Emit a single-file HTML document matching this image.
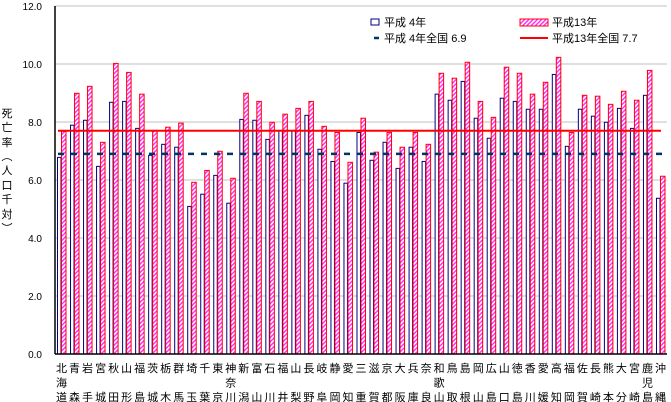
<!DOCTYPE html>
<html><head><meta charset="utf-8"><style>
body{margin:0;background:#fff;}
svg{display:block;font-family:"Liberation Sans","Noto Sans CJK JP",sans-serif;}
</style></head><body>
<svg id="chart" width="671" height="402">
<defs>
<pattern id="hatch" width="3" height="3" patternUnits="userSpaceOnUse" patternTransform="rotate(45)">
<rect width="3" height="3" fill="#fff"/><rect width="1.5" height="3" fill="#ff33ff"/>
</pattern>
</defs>
<g id="grid"></g><g id="bars"></g><g id="avg"></g><g id="axes"></g><g id="labels"></g>
<g font-size="11" text-anchor="middle">
<text x="7" y="117">死</text><text x="7" y="131">亡</text><text x="7" y="146">率</text>
<text x="7" y="160">︵</text><text x="7" y="174">人</text><text x="7" y="189">口</text>
<text x="7" y="203">千</text><text x="7" y="218">対</text><text x="7" y="232">︶</text>
</g>
<g font-size="11">
<rect x="371" y="19" width="8" height="6" fill="#fff" stroke="#000080"/>
<text x="384" y="26">平成 4年</text>
<rect x="520" y="19" width="28" height="7" fill="url(#hatch)" stroke="#f00"/>
<text x="552" y="26">平成13年</text>
<line x1="374" y1="38" x2="379" y2="38" stroke="#003366" stroke-width="2.5"/>
<text x="384" y="42">平成 4年全国 6.9</text>
<line x1="520" y1="38" x2="548" y2="38" stroke="#f00" stroke-width="2"/>
<text x="552" y="42">平成13年全国 7.7</text>
</g>
</svg>
<script>
const categories=["北海道","青森","岩手","宮城","秋田","山形","福島","茨城","栃木","群馬","埼玉","千葉","東京","神奈川","新潟","富山","石川","福井","山梨","長野","岐阜","静岡","愛知","三重","滋賀","京都","大阪","兵庫","奈良","和歌山","鳥取","島根","岡山","広島","山口","徳島","香川","愛媛","高知","福岡","佐賀","長崎","熊本","大分","宮崎","鹿児島","沖縄"];
const h4=[6.78,7.89,8.06,6.47,8.68,8.71,7.78,6.85,7.23,7.13,5.09,5.51,6.16,5.20,8.09,8.06,7.40,7.71,7.71,8.23,7.06,6.64,5.89,7.64,6.68,7.30,6.40,7.13,6.64,8.96,8.75,9.40,8.13,7.44,8.82,8.71,8.44,8.44,9.64,7.16,8.44,8.20,7.99,8.47,7.78,8.92,5.37];
const h13=[7.68,8.99,9.23,7.30,10.02,9.71,8.96,7.71,7.82,7.96,5.92,6.33,6.99,6.06,8.99,8.71,7.99,8.27,8.47,8.71,7.85,7.64,6.61,8.13,6.96,7.64,7.13,7.64,7.23,9.68,9.51,10.06,8.71,8.16,9.89,9.68,8.96,9.37,10.23,7.64,8.92,8.89,8.61,9.06,8.75,9.78,6.13];
const avgH4=6.9, avgH13=7.7;
const yTicks=[0,2,4,6,8,10,12];
const NS="http://www.w3.org/2000/svg";
const X0=55,X1=667,Y0=354,PPU=29;
const gw=(X1-X0)/categories.length;
const y=v=>Y0-v*PPU;
const gx=i=>X0+i*gw;
function mk(tag,attrs,parent){const e=document.createElementNS(NS,tag);for(const k in attrs)e.setAttribute(k,attrs[k]);parent.appendChild(e);return e;}
const grid=document.getElementById('grid'),bars=document.getElementById('bars'),avg=document.getElementById('avg'),axes=document.getElementById('axes'),labels=document.getElementById('labels');
yTicks.forEach(t=>{
  if(t>0){const l=mk('line',{x1:X0,x2:X1,y1:y(t),y2:y(t),stroke:'#c0c0c0','stroke-width':1},grid);
  
  }
  const tx=mk('text',{x:42,y:y(t)+4,'font-size':10,'text-anchor':'end'},axes);
  tx.textContent=t.toFixed(1);
  
  
});
categories.forEach((c,i)=>{
  const b1=mk('rect',{x:gx(i)+2.5,y:y(h4[i]),width:3.5,height:h4[i]*PPU,fill:'#fff',stroke:'#000080','stroke-width':1},bars);
  
  
  const b2=mk('rect',{x:gx(i)+6.5,y:y(h13[i]),width:4.5,height:h13[i]*PPU,fill:'url(#hatch)',stroke:'#f00','stroke-width':1},bars);
  
  
  const chars=[...c];
  let rows;
  if(chars.length===2) rows=[chars[0],'',chars[1]];
  else rows=chars;
  rows.forEach((ch,r)=>{
    if(!ch)return;
    const t=mk('text',{x:gx(i)+gw/2,y:372+r*14.5,'font-size':11,'text-anchor':'middle'},labels);
    t.textContent=ch;
    
    
  });
});
const la=mk('line',{x1:gx(0)+3,x2:X1-4,y1:y(avgH4),y2:y(avgH4),stroke:'#003366','stroke-width':2.5,'stroke-dasharray':'6 7'},avg);


const lb=mk('line',{x1:gx(0)+3,x2:X1-6,y1:y(avgH13),y2:y(avgH13),stroke:'#f00','stroke-width':2},avg);


const ya=mk('line',{x1:X0,x2:X0,y1:y(12),y2:Y0,stroke:'#000','stroke-width':1.5},axes);


const xa=mk('line',{x1:X0,x2:X1,y1:Y0,y2:Y0,stroke:'#000','stroke-width':1.5},axes);


</script>
</body></html>
